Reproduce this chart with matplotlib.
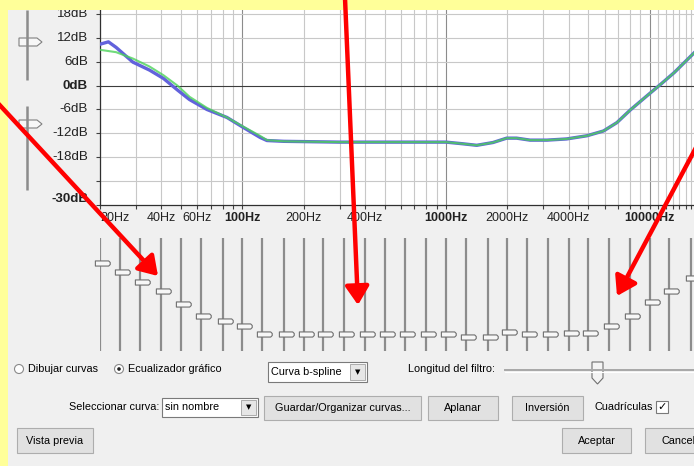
import matplotlib.pyplot as plt
import matplotlib.transforms as mtransforms
from matplotlib.patches import Rectangle, Circle, Polygon, FancyArrowPatch
from matplotlib.path import Path
from matplotlib.ticker import NullLocator

W, H = 694, 466
plt.rcParams['font.family'] = ['Liberation Sans', 'DejaVu Sans']

# curve (Hz, dB)
blue_freq = [20, 22, 24, 29, 35, 41, 48, 55, 67, 84, 101, 122, 132, 160, 300, 600,
             1000, 1200, 1415, 1700, 1985, 2220, 2585, 3130, 3910, 4920, 5930, 6900,
             8040, 9830, 11360, 13210, 16500]
blue_db = [10.4, 11.0, 9.6, 5.9, 3.9, 1.8, -1.1, -3.5, -6.0, -8.0, -10.5, -13.0, -13.8,
           -14.0, -14.2, -14.2, -14.2, -14.6, -15.0, -14.3, -13.2, -13.2, -13.7, -13.7,
           -13.4, -12.6, -11.4, -9.3, -6.1, -2.3, 0.4, 3.3, 8.2]
green_freq = [20, 24, 29, 35, 41, 48, 55, 67, 84, 101, 122, 132, 160, 300, 600,
              1000, 1200, 1415, 1700, 1985, 2220, 2585, 3130, 3910, 4920, 5930, 6900,
              8040, 9830, 11360, 13210, 16500]
green_db = [9.0, 8.4, 6.8, 4.8, 2.6, 0.0, -2.8, -5.6, -8.0, -10.3, -12.6, -13.7, -14.0,
            -14.2, -14.2, -14.2, -14.6, -15.0, -14.3, -13.2, -13.2, -13.7, -13.7, -13.4,
            -12.6, -11.4, -9.3, -6.1, -2.3, 0.4, 3.3, 8.2]

# graphic EQ sliders (31 bands)
band_freq = [20, 25, 31.5, 40, 50, 63, 80, 100, 125, 160, 200, 250, 315, 400, 500, 630,
             800, 1000, 1250, 1600, 2000, 2500, 3150, 4000, 5000, 6300, 8000, 10000,
             12500, 16000, 20000]
band_db = [11, 8, 4.3, 1.4, -3.2, -7.5, -9.3, -11.1, -13.9, -13.9, -13.9, -13.9, -13.9,
           -13.9, -13.9, -13.9, -13.9, -13.9, -15, -15, -13.2, -13.9, -13.9, -13.5, -13.5,
           -11.1, -7.5, -2.8, 1.4, 6, 11]

ytick_db = [18, 12, 6, 0, -6, -12, -18, -30]
ytick_text = ['18dB', '12dB', '6dB', '0dB', '-6dB', '-12dB', '-18dB', '-30dB']
xtick_freq = [20, 40, 60, 100, 200, 400, 1000, 2000, 4000, 10000]
xtick_text = ['20Hz', '40Hz', '60Hz', '100Hz', '200Hz', '400Hz', '1000Hz', '2000Hz',
              '4000Hz', '10000Hz']


def box(x0, y0, x1, y1):
    return [x0 / W, 1 - y1 / H, (x1 - x0) / W, (y1 - y0) / H]


fig = plt.figure(figsize=(W / 100, H / 100), dpi=100)
fig.patch.set_facecolor('#FFFF99')

## background panel + dialog widgets, pixel coords
bg = fig.add_axes([0, 0, 1, 1], zorder=0)
bg.set_xlim(0, W)
bg.set_ylim(H, 0)
bg.axis('off')
bg.add_patch(Rectangle((0, 0), W, H, facecolor='#F0F0F0', edgecolor='none'))

# dB range sliders on the left
for y0, y1, yh in [(10, 80, 42), (106, 190, 124)]:
    bg.plot([27, 27], [y0, y1], color='#8C8C8C', lw=1.8, solid_capstyle='butt')
    bg.add_patch(Polygon([(19, yh - 4), (37, yh - 4), (42, yh), (37, yh + 4), (19, yh + 4)],
                         facecolor='#F7F7F7', edgecolor='#808080', lw=0.8))

fs = 7.8
# radio buttons
bg.add_patch(Circle((19, 369), 4.5, facecolor='white', edgecolor='#8A8A8A', lw=0.8))
bg.text(28, 369, 'Dibujar curvas', fontsize=fs, va='center')
bg.add_patch(Circle((119, 369), 4.5, facecolor='white', edgecolor='#8A8A8A', lw=0.8))
bg.add_patch(Circle((119, 369), 1.8, facecolor='#222222', edgecolor='none'))
bg.text(128, 369, 'Ecualizador gráfico', fontsize=fs, va='center')


def combo(x0, y0, x1, y1, label):
    bg.add_patch(Rectangle((x0, y0), x1 - x0, y1 - y0, facecolor='white',
                           edgecolor='#7A7A7A', lw=0.8))
    bg.add_patch(Rectangle((x1 - 17, y0 + 2), 15, y1 - y0 - 4, facecolor='#E6E6E6',
                           edgecolor='#A0A0A0', lw=0.6))
    bg.text(x1 - 9.5, (y0 + y1) / 2, '▼', fontsize=5, ha='center', va='center',
            family='DejaVu Sans')
    bg.text(x0 + 3, (y0 + y1) / 2, label, fontsize=fs, va='center')


def button(x0, y0, x1, y1, label):
    bg.add_patch(Rectangle((x0, y0), x1 - x0, y1 - y0, facecolor='#E1E1E1',
                           edgecolor='#ADADAD', lw=0.8))
    bg.text((x0 + x1) / 2, (y0 + y1) / 2, label, fontsize=fs, ha='center', va='center')


combo(268, 362, 367, 382, 'Curva b-spline')
bg.text(408, 369, 'Longitud del filtro:', fontsize=fs, va='center')
bg.plot([505, 700], [370, 370], color='#A8A8A8', lw=1.4)
bg.plot([505, 700], [371.5, 371.5], color='white', lw=0.8)
bg.add_patch(Polygon([(592, 362), (603, 362), (603, 378), (597.5, 384), (592, 378)],
                     facecolor='#F4F4F4', edgecolor='#707070', lw=0.8))

bg.text(159, 407, 'Seleccionar curva:', fontsize=fs, ha='right', va='center')
combo(162, 398, 258, 417, 'sin nombre')
button(264, 396, 421, 420, 'Guardar/Organizar curvas...')
button(428, 396, 498, 420, 'Aplanar')
button(512, 396, 583, 420, 'Inversión')
bg.text(595, 407, 'Cuadrículas', fontsize=fs, va='center')
bg.add_patch(Rectangle((656, 401), 12, 12, facecolor='white', edgecolor='#7A7A7A', lw=0.8))
bg.text(662, 407, '✓', fontsize=8, ha='center', va='center', family='DejaVu Sans',
        fontweight='bold')

button(17, 428, 93, 453, 'Vista previa')
button(562, 428, 631, 453, 'Aceptar')
button(645, 428, 722, 453, 'Cancelar')

## response plot
ax = fig.add_axes(box(100, 10, W, 205), zorder=2)
ax.set_facecolor('white')
ax.set_xscale('log')
ax.set_xlim(20, 16500)
ax.set_ylim(-30, 19)

grid_f = ([f for f in range(20, 100, 10)] + [f for f in range(100, 1000, 100)]
          + [f for f in range(1000, 10000, 1000)] + [f for f in range(10000, 17000, 1000)])
for f in grid_f:
    dec = f in (100, 1000, 10000)
    ax.axvline(f, color='#8C8C8C' if dec else '#C8C8C8', lw=0.8, zorder=0)
for d in range(-24, 19, 6):
    ax.axhline(d, color='#3C3C3C' if d == 0 else '#C8C8C8', lw=0.8, zorder=0)

ax.plot(blue_freq, blue_db, color='#6262DC', lw=2.4, zorder=3)
ax.plot(green_freq, green_db, color='#4CD25A', lw=1.5, alpha=0.8, zorder=4)

for s in ['top', 'right']:
    ax.spines[s].set_visible(False)
for s in ['left', 'bottom']:
    ax.spines[s].set_color('#303030')
    ax.spines[s].set_linewidth(0.9)
ax.xaxis.set_minor_locator(NullLocator())
ax.set_xticks(grid_f)
ax.set_yticks(range(-30, 19, 6))
ax.tick_params(axis='both', direction='out', length=3, width=0.8, color='#404040',
               labelbottom=False, labelleft=False)

ytr = mtransforms.blended_transform_factory(ax.transAxes, ax.transData)
for d, t in zip(ytick_db, ytick_text):
    ax.text(-0.02, d + (1.5 if d == -30 else 0), t, transform=ytr, ha='right', va='center',
            fontsize=9.6, fontweight='bold' if d in (0, -30) else 'normal', color='#222222')
xtr = mtransforms.blended_transform_factory(ax.transData, ax.transAxes)
for f, t in zip(xtick_freq, xtick_text):
    ax.text(f, -0.068, t, transform=xtr, ha='left' if f == 20 else 'center', va='center',
            fontsize=9, fontweight='bold' if f in (100, 1000, 10000) else 'normal',
            color='#222222', clip_on=False)

## slider bank under the plot
sl = fig.add_axes(box(100, 238, W, 351), zorder=2)
sl.set_xscale('log')
sl.set_xlim(20, 16500)
sl.set_ylim(-20, 20)
sl.axis('off')
sl.vlines(band_freq, -20, 20, color='#8C8C8C', lw=1.6)
handle = Path([(-5, -2.5), (8, -2.5), (9.5, -1), (9.5, 1), (8, 2.5), (-5, 2.5), (-5, -2.5)],
              closed=True)
sl.plot(band_freq, band_db, ls='none', marker=handle, ms=14, mfc='#F7F7F7', mec='#6E6E6E',
        mew=0.8, clip_on=False)

## yellow frame edges + red arrows on top
ov = fig.add_axes([0, 0, 1, 1], zorder=10)
ov.set_xlim(0, W)
ov.set_ylim(H, 0)
ov.axis('off')
ov.add_patch(Rectangle((0, 0), W, 9.5, facecolor='#FFFF99', edgecolor='none'))
ov.add_patch(Rectangle((0, 0), 8.5, H, facecolor='#FFFF99', edgecolor='none'))
for x0, y0, x1, y1 in [(-5, 100, 158, 276), (345, -2, 358, 305), (700, 140, 617, 296)]:
    ov.add_patch(FancyArrowPatch((x0, y0), (x1, y1),
                                 arrowstyle='-|>,head_length=0.7,head_width=0.45',
                                 mutation_scale=16, color='#FF0000', lw=3.2,
                                 shrinkA=0, shrinkB=0))

fig.savefig('out.png', dpi=100, facecolor=fig.get_facecolor())
